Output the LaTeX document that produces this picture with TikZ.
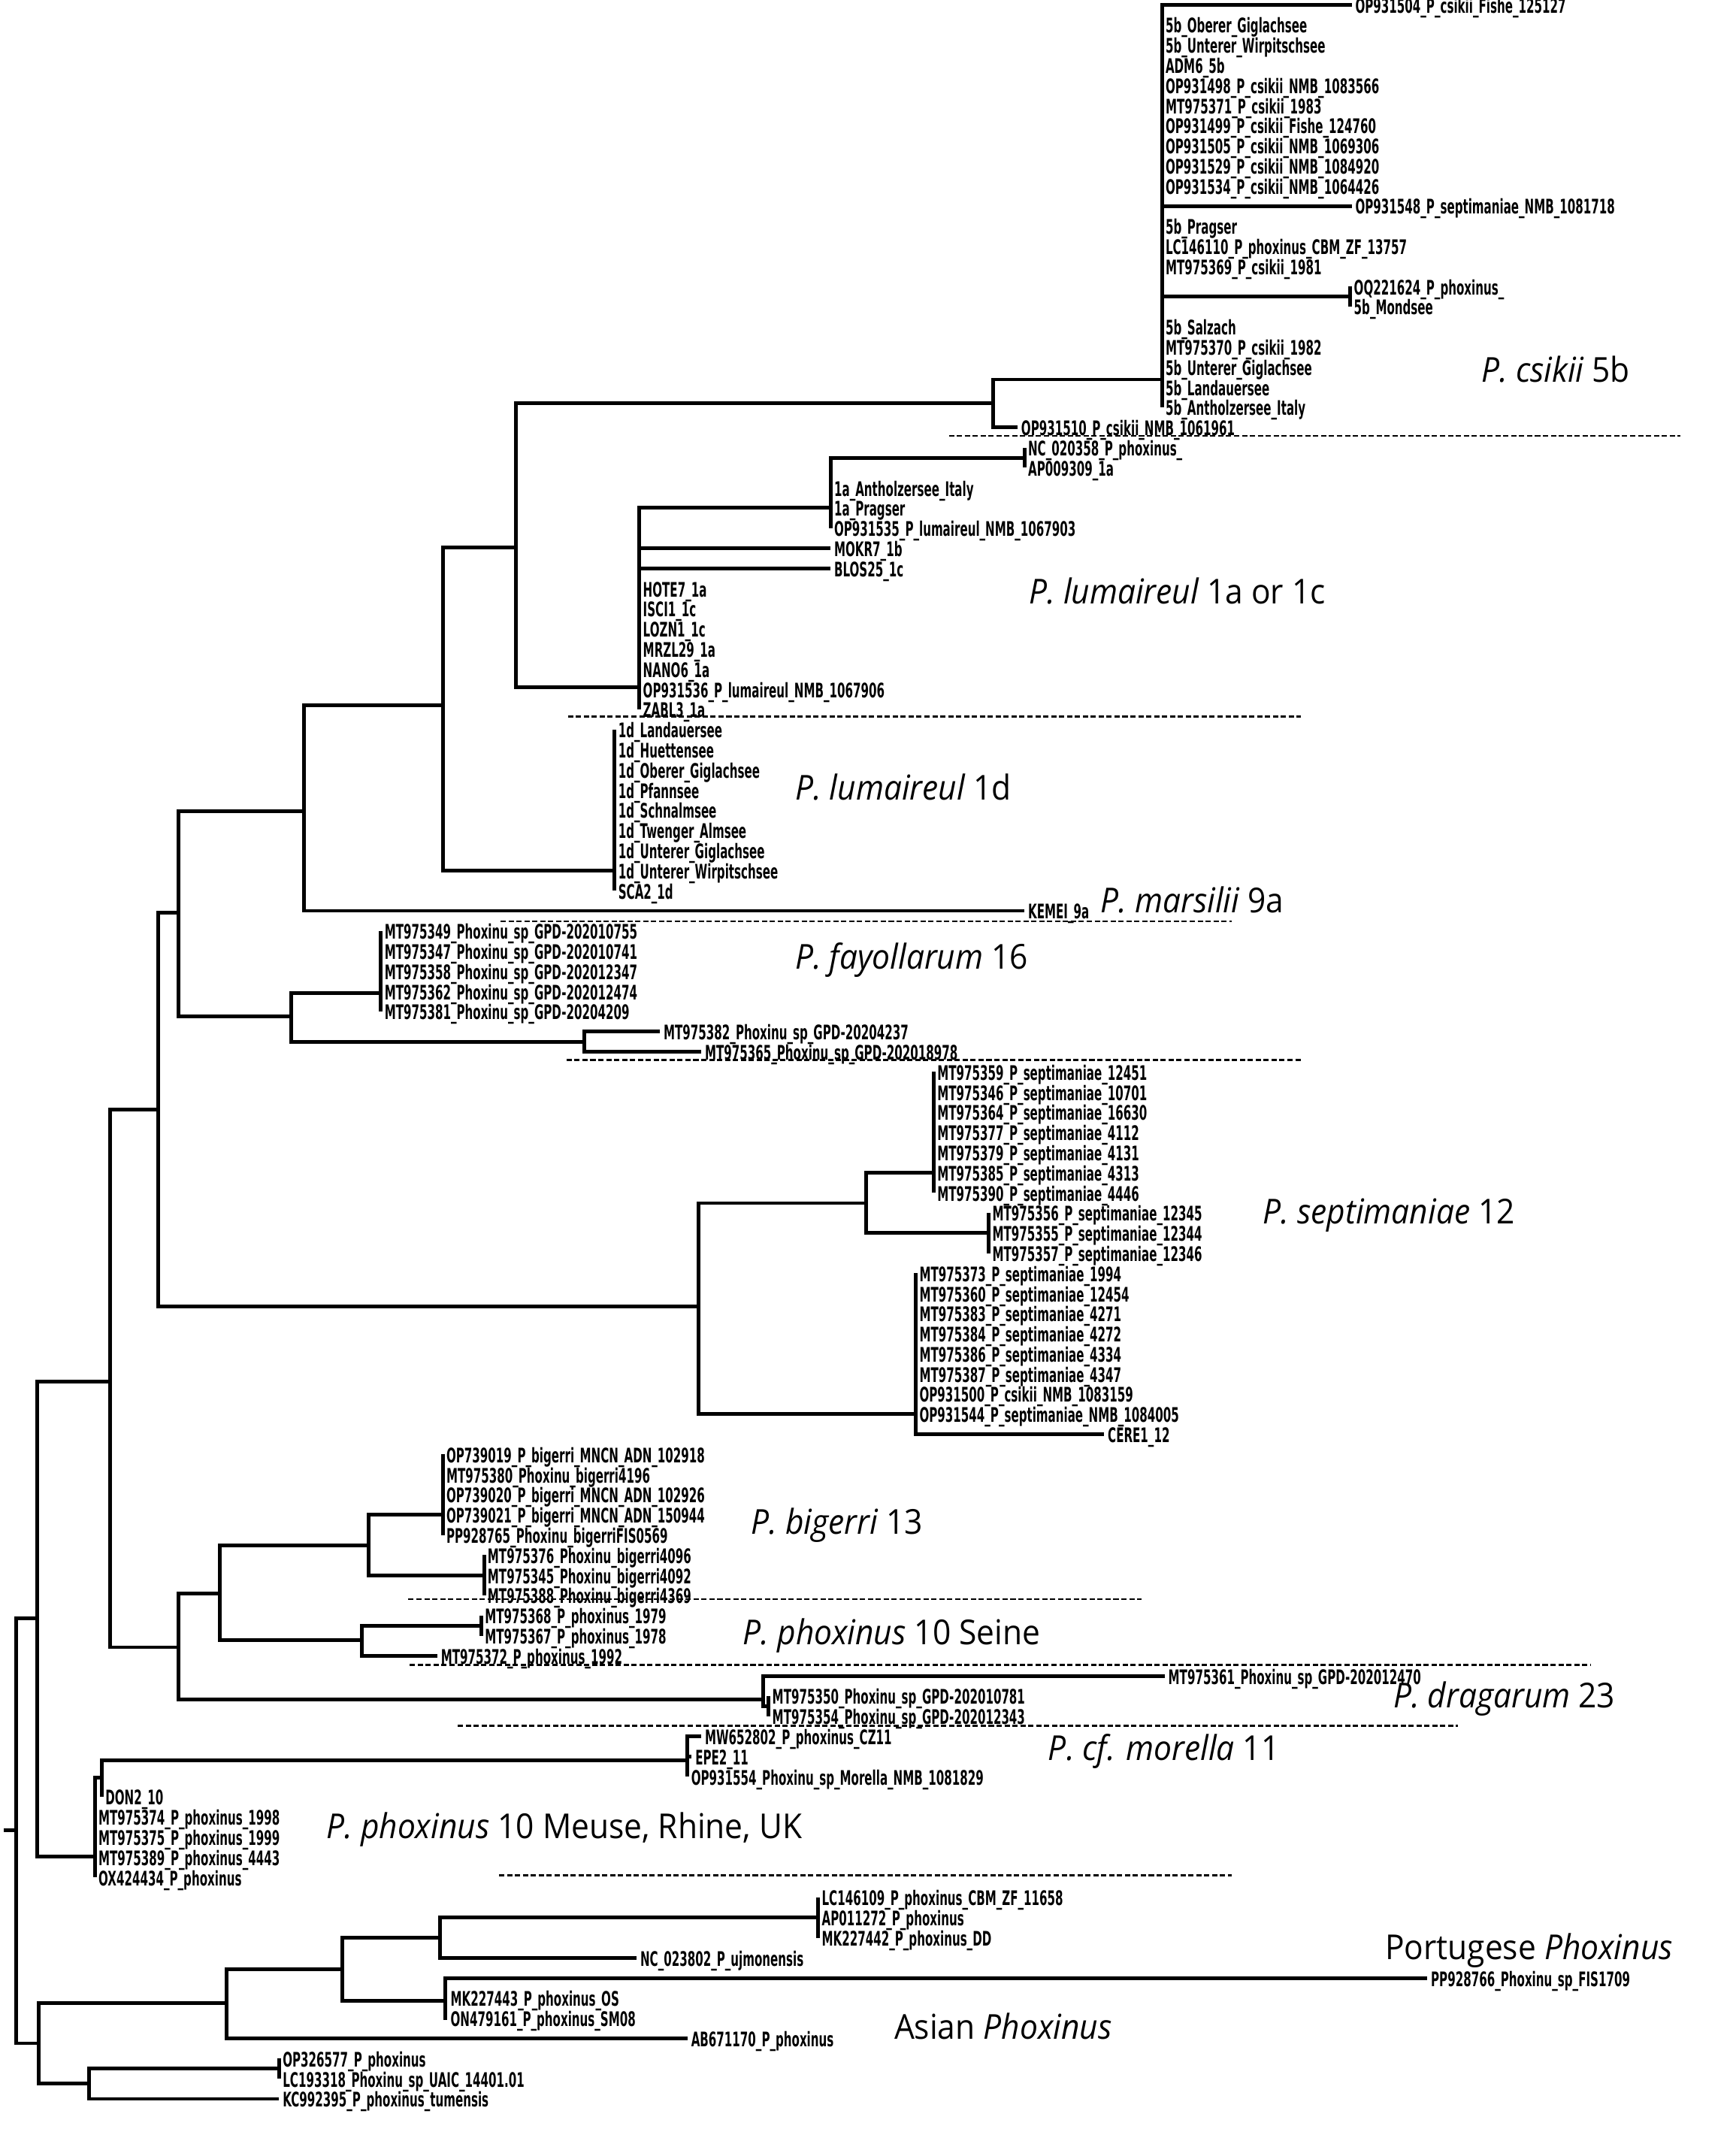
\documentclass[tikz,border=0pt]{standalone}
\usepackage{fontspec}
\newfontfamily\leaffont[FakeStretch=0.565]{DejaVu Sans}
\newfontfamily\cladefont[FakeStretch=0.93]{Open Sans}
% y of the k-th tip label
\pgfmathdeclarefunction{ly}{1}{\pgfmathparse{18+14.645*#1}}

\begin{document}
\begin{tikzpicture}[x=0.18305mm,y=-0.18305mm,
	leaf/.style={anchor=west,inner xsep=1.2pt,inner ysep=0pt,text height=6.2pt,text depth=0pt,
		font=\leaffont\bfseries\fontsize{7.6}{8}\selectfont},
	clade/.style={anchor=base west,inner sep=0pt,font=\cladefont\fontsize{13}{15}\selectfont},
	every edge/.style={draw,line width=1.4pt,to path={|- (\tikztotarget)}},
	sep/.style={line width=0.8pt,dash pattern=on 2pt off 1pt}]
		\path[use as bounding box,fill=white] (0,0) rectangle (1262,1568);
		
		% inner nodes
		\coordinate (stub) at (3,1331);
		\coordinate (root) at (12,1331);
		\coordinate (na) at (27,1177);
		\coordinate (fsb) at (80,1005);
		\coordinate (fs) at (115,807);
		\coordinate (f9) at (130,664);
		\coordinate (n9) at (221,590);
		\coordinate (l151d) at (322,513);
		\coordinate (l15) at (375,398);
		\coordinate (c5) at (722,293);
		\coordinate (c5b) at (845,276);
		\coordinate (cmo) at (982,{ly(13.5)});
		\coordinate (l1) at (465,500);
		\coordinate (l1a) at (604,369);
		\coordinate (lnc) at (745,{ly(21.5)});
		\coordinate (l1d) at (447,633);
		\coordinate (f16) at (212,739);
		\coordinate (f16a) at (277,722);
		\coordinate (f16b) at (425,{ly(50.5)});
		\coordinate (s0) at (508,950);
		\coordinate (s12) at (630,875);
		\coordinate (s1) at (679,{ly(57)});
		\coordinate (s2) at (719,{ly(60)});
		\coordinate (s3) at (666,{ly(69)});
		\coordinate (bpd) at (130,1198);
		\coordinate (bp) at (160,1159);
		\coordinate (b0) at (268,1124);
		\coordinate (b1) at (322,{ly(74)});
		\coordinate (b2) at (352,{ly(77)});
		\coordinate (p0) at (263,1193);
		\coordinate (p1) at (350,{ly(79.5)});
		\coordinate (d0) at (555,1236);
		\coordinate (d1) at (559,{ly(83.5)});
		\coordinate (mr) at (69,1350);
		\coordinate (md) at (74,1293);
		\coordinate (m0) at (500,1280);
		\coordinate (a0) at (28,1486);
		\coordinate (a5) at (165,1457);
		\coordinate (a4) at (249,1432);
		\coordinate (a2) at (320,{ly(95)});
		\coordinate (a1) at (595,{ly(94)});
		\coordinate (a3) at (324,1455);
		\coordinate (a7) at (65,1515);
		\coordinate (a6) at (203,{ly(101.5)});
		
		% P. csikii 5b
		\node[leaf] (cs0) at (983,{ly(-1)}) {OP931504\_P\_csikii\_Fishe\_125127};
		\node[leaf] (cs1) at (845,{ly(0)}) {5b\_Oberer\_Giglachsee};
		\node[leaf] (cs2) at (845,{ly(1)}) {5b\_Unterer\_Wirpitschsee};
		\node[leaf] (cs3) at (845,{ly(2)}) {ADM6\_5b};
		\node[leaf] (cs4) at (845,{ly(3)}) {OP931498\_P\_csikii\_NMB\_1083566};
		\node[leaf] (cs5) at (845,{ly(4)}) {MT975371\_P\_csikii\_1983};
		\node[leaf] (cs6) at (845,{ly(5)}) {OP931499\_P\_csikii\_Fishe\_124760};
		\node[leaf] (cs7) at (845,{ly(6)}) {OP931505\_P\_csikii\_NMB\_1069306};
		\node[leaf] (cs8) at (845,{ly(7)}) {OP931529\_P\_csikii\_NMB\_1084920};
		\node[leaf] (cs9) at (845,{ly(8)}) {OP931534\_P\_csikii\_NMB\_1064426};
		\node[leaf] (cs10) at (983,{ly(9)}) {OP931548\_P\_septimaniae\_NMB\_1081718};
		\node[leaf] (cs11) at (845,{ly(10)}) {5b\_Pragser};
		\node[leaf] (cs12) at (845,{ly(11)}) {LC146110\_P\_phoxinus\_CBM\_ZF\_13757};
		\node[leaf] (cs13) at (845,{ly(12)}) {MT975369\_P\_csikii\_1981};
		\node[leaf] (cs14) at (982,{ly(13)}) {OQ221624\_P\_phoxinus\_};
		\node[leaf] (cs15) at (982,{ly(14)}) {5b\_Mondsee};
		\node[leaf] (cs16) at (845,{ly(15)}) {5b\_Salzach};
		\node[leaf] (cs17) at (845,{ly(16)}) {MT975370\_P\_csikii\_1982};
		\node[leaf] (cs18) at (845,{ly(17)}) {5b\_Unterer\_Giglachsee};
		\node[leaf] (cs19) at (845,{ly(18)}) {5b\_Landauersee};
		\node[leaf] (cs20) at (845,{ly(19)}) {5b\_Antholzersee\_Italy};
		\node[leaf] (cs21) at (740,{ly(20)}) {OP931510\_P\_csikii\_NMB\_1061961};
		
		% P. lumaireul 1a or 1c
		\node[leaf] (lu1) at (745,{ly(21)}) {NC\_020358\_P\_phoxinus\_};
		\node[leaf] (lu2) at (745,{ly(22)}) {AP009309\_1a};
		\node[leaf] (lu3) at (604,{ly(23)}) {1a\_Antholzersee\_Italy};
		\node[leaf] (lu4) at (604,{ly(24)}) {1a\_Pragser};
		\node[leaf] (lu5) at (604,{ly(25)}) {OP931535\_P\_lumaireul\_NMB\_1067903};
		\node[leaf] (lu6) at (604,{ly(26)}) {MOKR7\_1b};
		\node[leaf] (lu7) at (604,{ly(27)}) {BLOS25\_1c};
		\node[leaf] (lu8) at (465,{ly(28)}) {HOTE7\_1a};
		\node[leaf] (lu9) at (465,{ly(29)}) {ISCI1\_1c};
		\node[leaf] (lu10) at (465,{ly(30)}) {LOZN1\_1c};
		\node[leaf] (lu11) at (465,{ly(31)}) {MRZL29\_1a};
		\node[leaf] (lu12) at (465,{ly(32)}) {NANO6\_1a};
		\node[leaf] (lu13) at (465,{ly(33)}) {OP931536\_P\_lumaireul\_NMB\_1067906};
		\node[leaf] (lu14) at (465,{ly(34)}) {ZABL3\_1a};
		
		% P. lumaireul 1d
		\node[leaf] (ld1) at (447,{ly(35)}) {1d\_Landauersee};
		\node[leaf] (ld2) at (447,{ly(36)}) {1d\_Huettensee};
		\node[leaf] (ld3) at (447,{ly(37)}) {1d\_Oberer\_Giglachsee};
		\node[leaf] (ld4) at (447,{ly(38)}) {1d\_Pfannsee};
		\node[leaf] (ld5) at (447,{ly(39)}) {1d\_Schnalmsee};
		\node[leaf] (ld6) at (447,{ly(40)}) {1d\_Twenger\_Almsee};
		\node[leaf] (ld7) at (447,{ly(41)}) {1d\_Unterer\_Giglachsee};
		\node[leaf] (ld8) at (447,{ly(42)}) {1d\_Unterer\_Wirpitschsee};
		\node[leaf] (ld9) at (447,{ly(43)}) {SCA2\_1d};
		
		% P. marsilii 9a
		\node[leaf] (ma1) at (745,{ly(44)}) {KEMEI\_9a};
		
		% P. fayollarum 16
		\node[leaf] (fa1) at (277,{ly(45)}) {MT975349\_Phoxinu\_sp\_GPD-202010755};
		\node[leaf] (fa2) at (277,{ly(46)}) {MT975347\_Phoxinu\_sp\_GPD-202010741};
		\node[leaf] (fa3) at (277,{ly(47)}) {MT975358\_Phoxinu\_sp\_GPD-202012347};
		\node[leaf] (fa4) at (277,{ly(48)}) {MT975362\_Phoxinu\_sp\_GPD-202012474};
		\node[leaf] (fa5) at (277,{ly(49)}) {MT975381\_Phoxinu\_sp\_GPD-20204209};
		\node[leaf] (fa6) at (480,{ly(50)}) {MT975382\_Phoxinu\_sp\_GPD-20204237};
		\node[leaf] (fa7) at (510,{ly(51)}) {MT975365\_Phoxinu\_sp\_GPD-202018978};
		
		% P. septimaniae 12
		\node[leaf] (se1) at (679,{ly(52)}) {MT975359\_P\_septimaniae\_12451};
		\node[leaf] (se2) at (679,{ly(53)}) {MT975346\_P\_septimaniae\_10701};
		\node[leaf] (se3) at (679,{ly(54)}) {MT975364\_P\_septimaniae\_16630};
		\node[leaf] (se4) at (679,{ly(55)}) {MT975377\_P\_septimaniae\_4112};
		\node[leaf] (se5) at (679,{ly(56)}) {MT975379\_P\_septimaniae\_4131};
		\node[leaf] (se6) at (679,{ly(57)}) {MT975385\_P\_septimaniae\_4313};
		\node[leaf] (se7) at (679,{ly(58)}) {MT975390\_P\_septimaniae\_4446};
		\node[leaf] (se8) at (719,{ly(59)}) {MT975356\_P\_septimaniae\_12345};
		\node[leaf] (se9) at (719,{ly(60)}) {MT975355\_P\_septimaniae\_12344};
		\node[leaf] (se10) at (719,{ly(61)}) {MT975357\_P\_septimaniae\_12346};
		\node[leaf] (se11) at (666,{ly(62)}) {MT975373\_P\_septimaniae\_1994};
		\node[leaf] (se12) at (666,{ly(63)}) {MT975360\_P\_septimaniae\_12454};
		\node[leaf] (se13) at (666,{ly(64)}) {MT975383\_P\_septimaniae\_4271};
		\node[leaf] (se14) at (666,{ly(65)}) {MT975384\_P\_septimaniae\_4272};
		\node[leaf] (se15) at (666,{ly(66)}) {MT975386\_P\_septimaniae\_4334};
		\node[leaf] (se16) at (666,{ly(67)}) {MT975387\_P\_septimaniae\_4347};
		\node[leaf] (se17) at (666,{ly(68)}) {OP931500\_P\_csikii\_NMB\_1083159};
		\node[leaf] (se18) at (666,{ly(69)}) {OP931544\_P\_septimaniae\_NMB\_1084005};
		\node[leaf] (se19) at (803,{ly(70)}) {CERE1\_12};
		
		% P. bigerri 13
		\node[leaf] (bi1) at (322,{ly(71)}) {OP739019\_P\_bigerri\_MNCN\_ADN\_102918};
		\node[leaf] (bi2) at (322,{ly(72)}) {MT975380\_Phoxinu\_bigerri4196};
		\node[leaf] (bi3) at (322,{ly(73)}) {OP739020\_P\_bigerri\_MNCN\_ADN\_102926};
		\node[leaf] (bi4) at (322,{ly(74)}) {OP739021\_P\_bigerri\_MNCN\_ADN\_150944};
		\node[leaf] (bi5) at (322,{ly(75)}) {PP928765\_Phoxinu\_bigerriFIS0569};
		\node[leaf] (bi6) at (352,{ly(76)}) {MT975376\_Phoxinu\_bigerri4096};
		\node[leaf] (bi7) at (352,{ly(77)}) {MT975345\_Phoxinu\_bigerri4092};
		\node[leaf] (bi8) at (352,{ly(78)}) {MT975388\_Phoxinu\_bigerri4369};
		
		% P. phoxinus 10 Seine
		\node[leaf] (sn1) at (350,{ly(79)}) {MT975368\_P\_phoxinus\_1979};
		\node[leaf] (sn2) at (350,{ly(80)}) {MT975367\_P\_phoxinus\_1978};
		\node[leaf] (sn3) at (318,{ly(81)}) {MT975372\_P\_phoxinus\_1992};
		
		% P. dragarum 23
		\node[leaf] (dr1) at (847,{ly(82)}) {MT975361\_Phoxinu\_sp\_GPD-202012470};
		\node[leaf] (dr2) at (559,{ly(83)}) {MT975350\_Phoxinu\_sp\_GPD-202010781};
		\node[leaf] (dr3) at (559,{ly(84)}) {MT975354\_Phoxinu\_sp\_GPD-202012343};
		
		% P. cf. morella 11
		\node[leaf] (mo1) at (510,{ly(85)}) {MW652802\_P\_phoxinus\_CZ11};
		\node[leaf] (mo2) at (503,{ly(86)}) {EPE2\_11};
		\node[leaf] (mo3) at (500,{ly(87)}) {OP931554\_Phoxinu\_sp\_Morella\_NMB\_1081829};
		
		% P. phoxinus 10 Meuse, Rhine, UK
		\node[leaf] (me1) at (74,{ly(88)}) {DON2\_10};
		\node[leaf] (me2) at (69,{ly(89)}) {MT975374\_P\_phoxinus\_1998};
		\node[leaf] (me3) at (69,{ly(90)}) {MT975375\_P\_phoxinus\_1999};
		\node[leaf] (me4) at (69,{ly(91)}) {MT975389\_P\_phoxinus\_4443};
		\node[leaf] (me5) at (69,{ly(92)}) {OX424434\_P\_phoxinus};
		
		% Portugese and Asian Phoxinus
		\node[leaf] (pt1) at (595,{ly(93)}) {LC146109\_P\_phoxinus\_CBM\_ZF\_11658};
		\node[leaf] (pt2) at (595,{ly(94)}) {AP011272\_P\_phoxinus};
		\node[leaf] (pt3) at (595,{ly(95)}) {MK227442\_P\_phoxinus\_DD};
		\node[leaf] (pt4) at (463,{ly(96)}) {NC\_023802\_P\_ujmonensis};
		\node[leaf] (pt5) at (1038,{ly(97)}) {PP928766\_Phoxinu\_sp\_FIS1709};
		\node[leaf] (pt6) at (325,{ly(98)}) {MK227443\_P\_phoxinus\_OS};
		\node[leaf] (pt7) at (325,{ly(99)}) {ON479161\_P\_phoxinus\_SM08};
		\node[leaf] (pt8) at (500,{ly(100)}) {AB671170\_P\_phoxinus};
		\node[leaf] (pt9) at (203,{ly(101)}) {OP326577\_P\_phoxinus};
		\node[leaf] (pt10) at (203,{ly(102)}) {LC193318\_Phoxinu\_sp\_UAIC\_14401.01};
		\node[leaf] (pt11) at (203,{ly(103)}) {KC992395\_P\_phoxinus\_tumensis};
		
		% branches
		\draw[line width=1.4pt] (stub) -- (root);
		\path (root) edge (na) edge (a0);
		\path (na) edge (fsb) edge (mr);
		\path (fsb) edge (fs) edge (bpd);
		\path (fs) edge (f9) edge (s0);
		\path (f9) edge (n9) edge (f16);
		\path (n9) edge (l151d) edge (ma1);
		\path (l151d) edge (l15) edge (l1d);
		\path (l15) edge (c5) edge (l1);
		\path (c5) edge (c5b) edge (cs21);
		\path (c5b) edge (cs0) edge (cs1) edge (cs2) edge (cs3) edge (cs4) edge (cs5) edge (cs6)
			edge (cs7) edge (cs8) edge (cs9) edge (cs10) edge (cs11) edge (cs12) edge (cs13)
			edge (cmo) edge (cs16) edge (cs17) edge (cs18) edge (cs19) edge (cs20);
		\path (cmo) edge (cs14) edge (cs15);
		\path (l1) edge (l1a) edge (lu6) edge (lu7) edge (lu8) edge (lu9) edge (lu10)
			edge (lu11) edge (lu12) edge (lu13) edge (lu14);
		\path (l1a) edge (lnc) edge (lu3) edge (lu4) edge (lu5);
		\path (lnc) edge (lu1) edge (lu2);
		\path (l1d) edge (ld1) edge (ld2) edge (ld3) edge (ld4) edge (ld5) edge (ld6)
			edge (ld7) edge (ld8) edge (ld9);
		\path (f16) edge (f16a) edge (f16b);
		\path (f16a) edge (fa1) edge (fa2) edge (fa3) edge (fa4) edge (fa5);
		\path (f16b) edge (fa6) edge (fa7);
		\path (s0) edge (s12) edge (s3);
		\path (s12) edge (s1) edge (s2);
		\path (s1) edge (se1) edge (se2) edge (se3) edge (se4) edge (se5) edge (se6) edge (se7);
		\path (s2) edge (se8) edge (se9) edge (se10);
		\path (s3) edge (se11) edge (se12) edge (se13) edge (se14) edge (se15) edge (se16)
			edge (se17) edge (se18) edge (se19);
		\path (bpd) edge (bp) edge (d0);
		\path (bp) edge (b0) edge (p0);
		\path (b0) edge (b1) edge (b2);
		\path (b1) edge (bi1) edge (bi2) edge (bi3) edge (bi4) edge (bi5);
		\path (b2) edge (bi6) edge (bi7) edge (bi8);
		\path (p0) edge (p1) edge (sn3);
		\path (p1) edge (sn1) edge (sn2);
		\path (d0) edge (dr1) edge (d1);
		\path (d1) edge (dr2) edge (dr3);
		\path (mr) edge (md) edge (me2) edge (me3) edge (me4) edge (me5);
		\path (md) edge (m0) edge (me1);
		\path (m0) edge (mo1) edge (mo2) edge (mo3);
		\path (a0) edge (a5) edge (a7);
		\path (a5) edge (a4) edge (pt8);
		\path (a4) edge (a2) edge (a3);
		\path (a2) edge (a1) edge (pt4);
		\path (a1) edge (pt1) edge (pt2) edge (pt3);
		\path (a3) edge (pt5) edge (pt6) edge (pt7);
		\path (a7) edge (a6) edge (pt11);
		\path (a6) edge (pt9) edge (pt10);
		
		% clade separators
		\draw[sep] (690,317) -- (1222,317);
		\draw[sep] (413,521) -- (946,521);
		\draw[sep] (364,670) -- (896,670);
		\draw[sep] (412,771) -- (946,771);
		\draw[sep] (297,1163) -- (830,1163);
		\draw[sep] (298,1211) -- (1157,1211);
		\draw[sep] (333,1255) -- (1060,1255);
		\draw[sep] (363,1364) -- (896,1364);
		
		% clade names
		\node[clade] (kcs) at (1077,278) {\itshape P. csikii\upshape{} 5b};
		\node[clade] (klu) at (748,439) {\itshape P. lumaireul\upshape{} 1a or 1c};
		\node[clade] (kld) at (578,582) {\itshape P. lumaireul\upshape{} 1d};
		\node[clade] (kma) at (800,664) {\itshape P. marsilii\upshape{} 9a};
		\node[clade] (kfa) at (578,705) {\itshape P. fayollarum\upshape{} 16};
		\node[clade] (kse) at (918,890) {\itshape P. septimaniae\upshape{} 12};
		\node[clade] (kbi) at (546,1116) {\itshape P. bigerri\upshape{} 13};
		\node[clade] (ksn) at (540,1196) {\itshape P. phoxinus\upshape{} 10 Seine};
		\node[clade] (kdr) at (1013,1242) {\itshape P. dragarum\upshape{} 23};
		\node[clade] (kmo) at (762,1280) {\itshape P. cf. morella\upshape{} 11};
		\node[clade] (kme) at (237,1337) {\itshape P. phoxinus\upshape{} 10 Meuse, Rhine, UK};
		\node[clade] (kpt) at (1007,1425) {Portugese \itshape Phoxinus};
		\node[clade] (kas) at (650,1483) {Asian \itshape Phoxinus};
	\end{tikzpicture}
\end{document}
